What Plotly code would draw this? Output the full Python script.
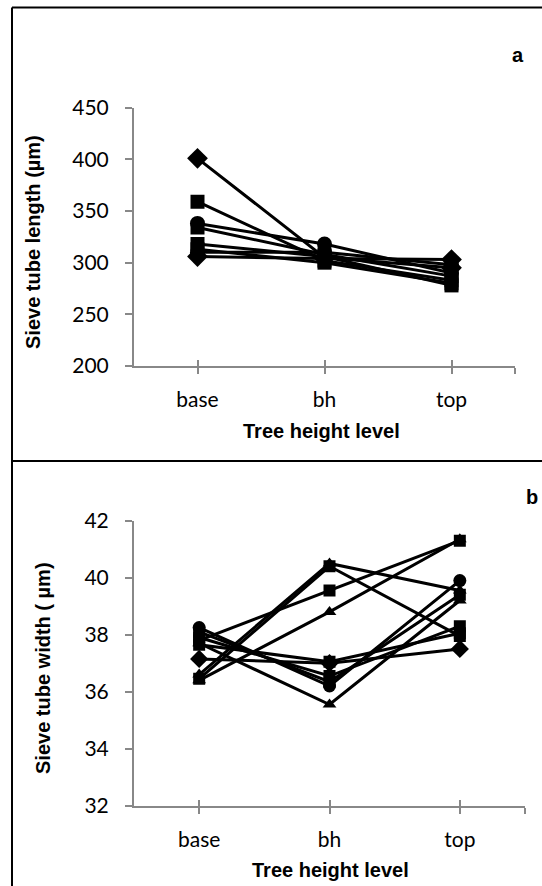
import plotly.graph_objects as go

# ---------------- data ----------------
categories = ["base", "bh", "top"]

# Panel a: sieve tube length (µm)
len_s1 = [401, 305, 295]
len_s2 = [359, 302, 283]
len_s3 = [338, 318, 290]
len_s4 = [334, 308, 287]
len_s5 = [318, 306, 278]
len_s6 = [313, 300, 280]
len_s7 = [310, 310, 298]
len_s8 = [306, 304, 303]
len_markers = ["diamond", "square", "circle", "square", "square", "square", "circle", "diamond"]

# Panel b: sieve tube width (µm)
wid_s1 = [37.15, 37.0, 37.5]
wid_s2 = [36.45, 40.4, 37.95]
wid_s3 = [36.6, 40.5, 39.55]
wid_s4 = [37.8, 39.55, 41.3]
wid_s5 = [36.4, 38.8, 41.35]
wid_s6 = [38.25, 36.2, 39.9]
wid_s7 = [38.1, 36.35, 39.4]
wid_s8 = [37.9, 36.55, 38.3]
wid_s9 = [37.65, 37.05, 38.05]
wid_s10 = [37.7, 35.55, 39.2]
wid_markers = ["diamond", "square", "triangle-up", "square", "triangle-up",
               "circle", "square", "square", "square", "triangle-up"]

len_ticks = [200, 250, 300, 350, 400, 450]
wid_ticks = [32, 34, 36, 38, 40, 42]

# ---------------- figure ----------------
W, H = 542, 886
fig = go.Figure()

xpos = list(range(len(categories)))
msize = {"diamond": 16, "square": 14, "circle": 15, "triangle-up": 14}

for ys, m in zip([len_s1, len_s2, len_s3, len_s4, len_s5, len_s6, len_s7, len_s8], len_markers):
    fig.add_trace(go.Scatter(
        x=xpos, y=ys, mode="lines+markers", xaxis="x", yaxis="y",
        line=dict(color="black", width=3),
        marker=dict(symbol=m, size=msize[m], color="black"),
        showlegend=False, hoverinfo="skip"))

for ys, m in zip([wid_s1, wid_s2, wid_s3, wid_s4, wid_s5, wid_s6, wid_s7, wid_s8, wid_s9, wid_s10], wid_markers):
    fig.add_trace(go.Scatter(
        x=xpos, y=ys, mode="lines+markers", xaxis="x2", yaxis="y2",
        line=dict(color="black", width=3),
        marker=dict(symbol=m, size=msize[m] - 2, color="black"),
        showlegend=False, hoverinfo="skip"))

# empty traces so the overlay axes (inner half of the crossing ticks) get drawn
fig.add_trace(go.Scatter(x=[], y=[], xaxis="x3", yaxis="y", showlegend=False, hoverinfo="skip"))
fig.add_trace(go.Scatter(x=[], y=[], xaxis="x4", yaxis="y2", showlegend=False, hoverinfo="skip"))

tickfont = dict(family="Lato, Calibri, sans-serif", size=21, color="black")
axcol = "#888888"

def xaxis_cfg(domain, anchor):
    return dict(domain=domain, anchor=anchor, range=[-0.5, 2.5],
                tickvals=xpos + [2.5], ticktext=categories + [""],
                ticks="outside", ticklen=6, tickwidth=2, tickcolor=axcol,
                showline=True, linecolor=axcol, linewidth=2,
                showgrid=False, zeroline=False, tickfont=tickfont,
                ticklabelstandoff=8, fixedrange=True, automargin=False)

def xaxis_inner(domain, anchor, over):
    return dict(domain=domain, anchor=anchor, overlaying=over, range=[-0.5, 2.5],
                tickvals=xpos + [2.5], ticks="inside", ticklen=6, tickwidth=2,
                tickcolor=axcol, showline=False, showticklabels=False,
                showgrid=False, zeroline=False, fixedrange=True, automargin=False)

def yaxis_cfg(domain, anchor, rng, tv):
    return dict(domain=domain, anchor=anchor, range=rng, tickvals=tv,
                ticks="outside", ticklen=7, tickwidth=2, tickcolor=axcol,
                showline=True, linecolor=axcol, linewidth=2,
                showgrid=False, zeroline=False, tickfont=tickfont,
                ticklabelstandoff=12, fixedrange=True, automargin=False)

def px_x(p):
    return p / W

def px_y(p):
    return 1 - p / H

dom_xa = [px_x(134), px_x(515)]
dom_xb = [px_x(134), px_x(525)]

fig.update_layout(
    width=W, height=H, margin=dict(l=0, r=0, t=0, b=0, pad=0, autoexpand=False),
    paper_bgcolor="white", plot_bgcolor="white",
    xaxis=xaxis_cfg(dom_xa, "y"),
    yaxis=yaxis_cfg([px_y(366), px_y(107.7)], "x", [200, 450], len_ticks),
    xaxis2=xaxis_cfg(dom_xb, "y2"),
    yaxis2=yaxis_cfg([px_y(805.7), px_y(520.7)], "x2", [32, 42], wid_ticks),
    xaxis3=xaxis_inner(dom_xa, "y", "x"),
    xaxis4=xaxis_inner(dom_xb, "y2", "x2"),
)

titlefont = dict(family="Liberation Sans, Arial, sans-serif", size=20, color="black")
ann = [
    dict(text="<b>Sieve tube length (µm)</b>", x=px_x(33), y=px_y(242), textangle=-90),
    dict(text="<b>Tree height level</b>", x=px_x(321), y=px_y(431)),
    dict(text="<b>Sieve tube width ( µm)</b>", x=px_x(43), y=px_y(668), textangle=-90),
    dict(text="<b>Tree height level</b>", x=px_x(330), y=px_y(870)),
    dict(text="<b>a</b>", x=px_x(518), y=px_y(55)),
    dict(text="<b>b</b>", x=px_x(532), y=px_y(497)),
]
for a in ann:
    fig.add_annotation(xref="paper", yref="paper", showarrow=False,
                       xanchor="center", yanchor="middle", font=titlefont, **a)

# frame lines
frame = dict(color="black", width=2)
fig.add_shape(type="line", xref="paper", yref="paper", x0=px_x(12), x1=1, y0=px_y(7.5), y1=px_y(7.5), line=frame)
fig.add_shape(type="line", xref="paper", yref="paper", x0=px_x(12), x1=px_x(12), y0=px_y(7.5), y1=0, line=frame)
fig.add_shape(type="line", xref="paper", yref="paper", x0=px_x(12), x1=1, y0=px_y(461), y1=px_y(461), line=frame)

fig.write_html("out.html")
